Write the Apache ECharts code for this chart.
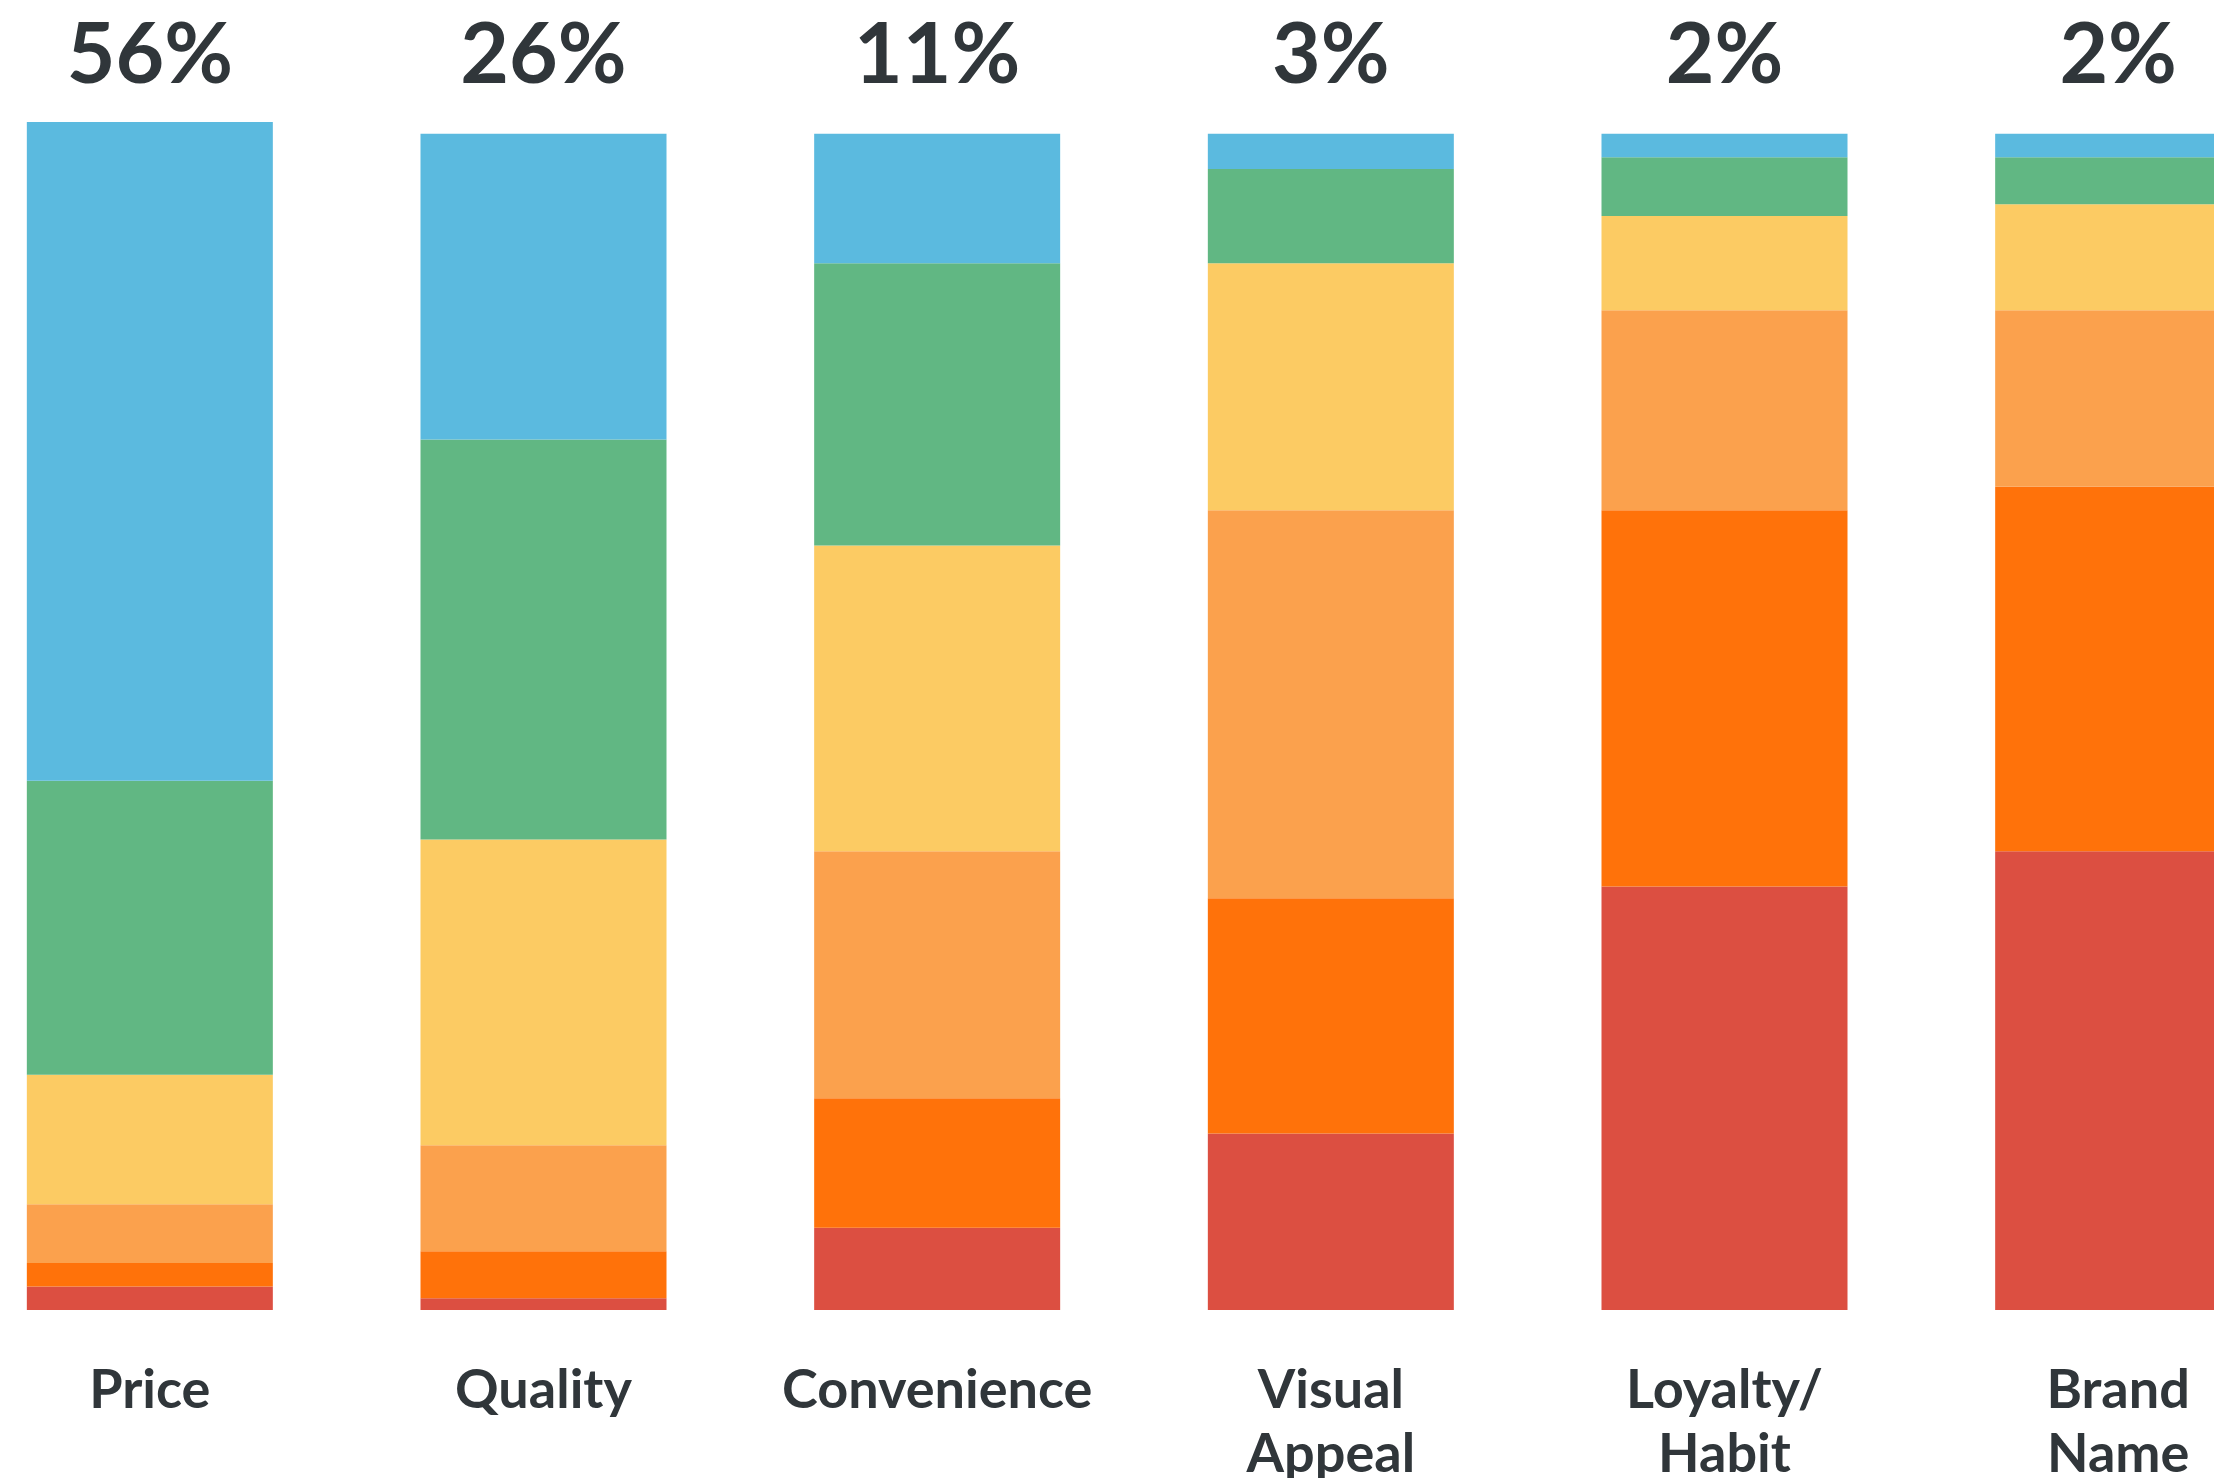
<!DOCTYPE html>
<html>
<head>
<meta charset="utf-8">
<style>
  html, body { margin: 0; padding: 0; background: #ffffff; }
  #chart { width: 2214px; height: 1478px; }
</style>
<script src="https://cdn.jsdelivr.net/npm/echarts@6/dist/echarts.min.js"></script>
</head>
<body>
<div id="chart"></div>
<script>
// Factors shoppers ranked, and the share of respondents giving each rank (%)
const categories = ['Price', 'Quality', 'Convenience', 'Visual\nAppeal', 'Loyalty/\nHabit', 'Brand\nName'];
const rank1 = [56, 26, 11, 3, 2, 2];
const rank2 = [25, 34, 24, 8, 5, 4];
const rank3 = [11, 26, 26, 21, 8, 9];
const rank4 = [5, 9, 21, 33, 17, 15];
const rank5 = [2, 4, 11, 20, 32, 31];
const rank6 = [2, 1, 7, 15, 36, 39];

// Headline figure above each column is the first-rank share
const headlineLabels = rank1.map(v => v + '%');

// Stacked bottom-to-top: lowest rank first
const layers = [
  { name: 'Rank 6', data: rank6, color: '#dc4f41' },
  { name: 'Rank 5', data: rank5, color: '#ff720a' },
  { name: 'Rank 4', data: rank4, color: '#fba14d' },
  { name: 'Rank 3', data: rank3, color: '#fccb63' },
  { name: 'Rank 2', data: rank2, color: '#61b783' },
  { name: 'Rank 1', data: rank1, color: '#5bbadf' }
];

const textColor = '#30363a';
const font = 'Lato, "Open Sans", "Noto Sans", sans-serif';

const chart = echarts.init(document.getElementById('chart'), null, { renderer: 'canvas' });

chart.setOption({
  backgroundColor: '#ffffff',
  animation: false,
  grid: {
    left: -47, top: 122, width: 2362, bottom: 168,
    containLabel: false,
    outerBoundsMode: 'none'
  },
  xAxis: [
    {
      type: 'category',
      data: categories,
      position: 'bottom',
      axisLine: { show: false },
      axisTick: { show: false },
      axisLabel: {
        interval: 0,
        margin: 49,
        color: textColor,
        fontFamily: font,
        fontWeight: 'bold',
        fontSize: 54,
        lineHeight: 64,
        verticalAlign: 'top'
      }
    },
    {
      type: 'category',
      data: headlineLabels,
      position: 'top',
      axisLine: { show: false },
      axisTick: { show: false },
      axisLabel: {
        interval: 0,
        margin: 24,
        color: textColor,
        fontFamily: font,
        fontWeight: 'bold',
        fontSize: 84
      }
    }
  ],
  yAxis: {
    type: 'value',
    min: 0,
    max: 101,
    show: false,
    splitLine: { show: false }
  },
  series: layers.map(l => ({
    name: l.name,
    type: 'bar',
    stack: 'rank',
    xAxisIndex: 0,
    barWidth: 246,
    clip: false,
    data: l.data,
    itemStyle: { color: l.color },
    emphasis: { disabled: true }
  }))
});
</script>
</body>
</html>
